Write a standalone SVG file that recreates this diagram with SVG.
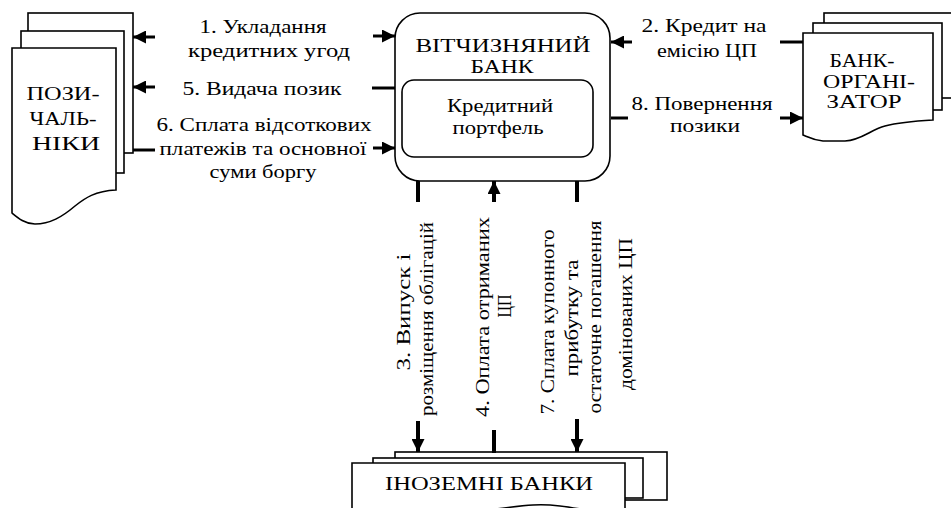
<svg xmlns="http://www.w3.org/2000/svg" width="951" height="508" viewBox="0 0 951 508">
<style>
  .sheet { fill: #fff; stroke: #000; stroke-width: 1.6; }
  .box { fill: #fff; stroke: #000; stroke-width: 1.6; }
  .t { font-family: "Liberation Serif", "DejaVu Serif", serif; font-size: 19px; fill: #000; text-anchor: middle; }
  .c { stroke: #000; stroke-width: 3; fill: none; }
  .v { stroke: #000; stroke-width: 4; fill: none; }
</style>
<defs>
  <marker id="ah" viewBox="0 0 13 13" markerUnits="userSpaceOnUse" markerWidth="13" markerHeight="13" refX="13" refY="6.5" orient="auto">
    <path d="M0,0 L13,6.5 L0,13 Z" fill="#000"/>
  </marker>
</defs>
<rect width="951" height="508" fill="#fff"/>

<g id="borrowers">
  <rect class="sheet" x="28" y="13" width="105" height="140"/>
  <rect class="sheet" x="21" y="31" width="103" height="142"/>
  <path class="sheet" d="M12,48 H116 V190 C95,191 85,198 75,206 C62,217 50,224 35,224 C25,224 18,218 12,213 Z"/>
  <text class="t" x="63" y="100" textLength="73" lengthAdjust="spacingAndGlyphs">ПОЗИ-</text>
  <text class="t" x="63" y="125" textLength="67" lengthAdjust="spacingAndGlyphs">ЧАЛЬ-</text>
  <text class="t" x="66" y="150" textLength="68" lengthAdjust="spacingAndGlyphs">НІКИ</text>
</g>

<g id="domestic-bank">
  <rect class="box" x="395" y="13" width="215" height="168" rx="25" ry="25"/>
  <text class="t" x="503" y="52" textLength="175" lengthAdjust="spacingAndGlyphs">ВІТЧИЗНЯНИЙ</text>
  <text class="t" x="502" y="73" textLength="63" lengthAdjust="spacingAndGlyphs">БАНК</text>
  <g id="credit-portfolio">
    <rect class="box" x="402" y="80" width="191" height="77" rx="12" ry="12"/>
    <text class="t" x="500" y="112" textLength="106" lengthAdjust="spacingAndGlyphs">Кредитний</text>
    <text class="t" x="498" y="134" textLength="91" lengthAdjust="spacingAndGlyphs">портфель</text>
  </g>
</g>

<g id="organizer-bank">
  <rect class="sheet" x="824" y="13" width="140" height="85"/>
  <rect class="sheet" x="813" y="23" width="129" height="87"/>
  <path class="sheet" d="M803,33 H933 V120 C915,121 900,122 885,126 C870,130 862,140 845,141 L823,141 C813,140 808,137 803,135 Z"/>
  <text class="t" x="862" y="67" textLength="65" lengthAdjust="spacingAndGlyphs">БАНК-</text>
  <text class="t" x="869" y="88" textLength="92" lengthAdjust="spacingAndGlyphs">ОРГАНІ-</text>
  <text class="t" x="864" y="108" textLength="75" lengthAdjust="spacingAndGlyphs">ЗАТОР</text>
</g>

<g id="foreign-banks">
  <rect class="sheet" x="395" y="452" width="272" height="48"/>
  <rect class="sheet" x="373" y="458" width="270" height="40"/>
  <path class="sheet" d="M352,463 H625 V515 C595,514 565,503 533,505 C490,507 430,525 352,516 Z"/>
  <text class="t" x="489" y="490" textLength="208" lengthAdjust="spacingAndGlyphs">ІНОЗЕМНІ БАНКИ</text>
</g>

<g id="connectors">
  <line class="c" x1="155" y1="37" x2="133" y2="37" marker-end="url(#ah)"/>
  <line class="c" x1="373" y1="36" x2="395" y2="36" marker-end="url(#ah)"/>
  <line class="c" x1="155" y1="87" x2="133" y2="87" marker-end="url(#ah)"/>
  <line class="c" x1="372" y1="88" x2="395" y2="88"/>
  <line class="c" x1="133" y1="150" x2="155" y2="150"/>
  <line class="c" x1="373" y1="148" x2="395" y2="148" marker-end="url(#ah)"/>
  <line class="c" x1="632" y1="42" x2="611" y2="42" marker-end="url(#ah)"/>
  <line class="c" x1="780" y1="42" x2="803" y2="42"/>
  <line class="c" x1="611" y1="118" x2="628" y2="118"/>
  <line class="c" x1="780" y1="118" x2="803" y2="118" marker-end="url(#ah)"/>
  <line class="v" x1="418" y1="181" x2="418" y2="202"/>
  <line class="v" x1="494" y1="202" x2="494" y2="181" marker-end="url(#ah)"/>
  <line class="v" x1="577" y1="181" x2="577" y2="202"/>
  <line class="v" x1="418" y1="421" x2="418" y2="452" marker-end="url(#ah)"/>
  <line class="v" x1="494" y1="430" x2="494" y2="453"/>
  <line class="v" x1="577" y1="419" x2="577" y2="452" marker-end="url(#ah)"/>
</g>

<g id="labels">
  <text class="t" x="263" y="33" textLength="127" lengthAdjust="spacingAndGlyphs">1.  Укладання</text>
  <text class="t" x="269" y="57" textLength="162" lengthAdjust="spacingAndGlyphs">кредитних угод</text>
  <text class="t" x="262" y="95" textLength="159" lengthAdjust="spacingAndGlyphs">5.  Видача позик</text>
  <text class="t" x="264" y="131" textLength="215" lengthAdjust="spacingAndGlyphs">6.  Сплата відсоткових</text>
  <text class="t" x="263" y="155" textLength="207" lengthAdjust="spacingAndGlyphs">платежів та основної</text>
  <text class="t" x="263" y="178" textLength="107" lengthAdjust="spacingAndGlyphs">суми боргу</text>

  <text class="t" x="704" y="32" textLength="125" lengthAdjust="spacingAndGlyphs">2.  Кредит на</text>
  <text class="t" x="707" y="57" textLength="100" lengthAdjust="spacingAndGlyphs">емісію ЦП</text>
  <text class="t" x="702" y="110" textLength="141" lengthAdjust="spacingAndGlyphs">8.  Повернення</text>
  <text class="t" x="705" y="132" textLength="70" lengthAdjust="spacingAndGlyphs">позики</text>

  <text class="t" transform="translate(410,312) rotate(-90)" textLength="117" lengthAdjust="spacingAndGlyphs">3.  Випуск  і</text>
  <text class="t" transform="translate(433,319) rotate(-90)" textLength="194" lengthAdjust="spacingAndGlyphs">розміщення облігацій</text>
  <text class="t" transform="translate(489,317) rotate(-90)" textLength="200" lengthAdjust="spacingAndGlyphs">4.  Оплата  отриманих</text>
  <text class="t" transform="translate(511,306) rotate(-90)" textLength="23" lengthAdjust="spacingAndGlyphs">ЦП</text>
  <text class="t" transform="translate(554,322) rotate(-90)" textLength="185" lengthAdjust="spacingAndGlyphs">7.  Сплата купонного</text>
  <text class="t" transform="translate(578,318) rotate(-90)" textLength="117" lengthAdjust="spacingAndGlyphs">прибутку та</text>
  <text class="t" transform="translate(601,317) rotate(-90)" textLength="193" lengthAdjust="spacingAndGlyphs">остаточне погашення</text>
  <text class="t" transform="translate(632,314) rotate(-90)" textLength="152" lengthAdjust="spacingAndGlyphs">домінованих ЦП</text>
</g>
</svg>
